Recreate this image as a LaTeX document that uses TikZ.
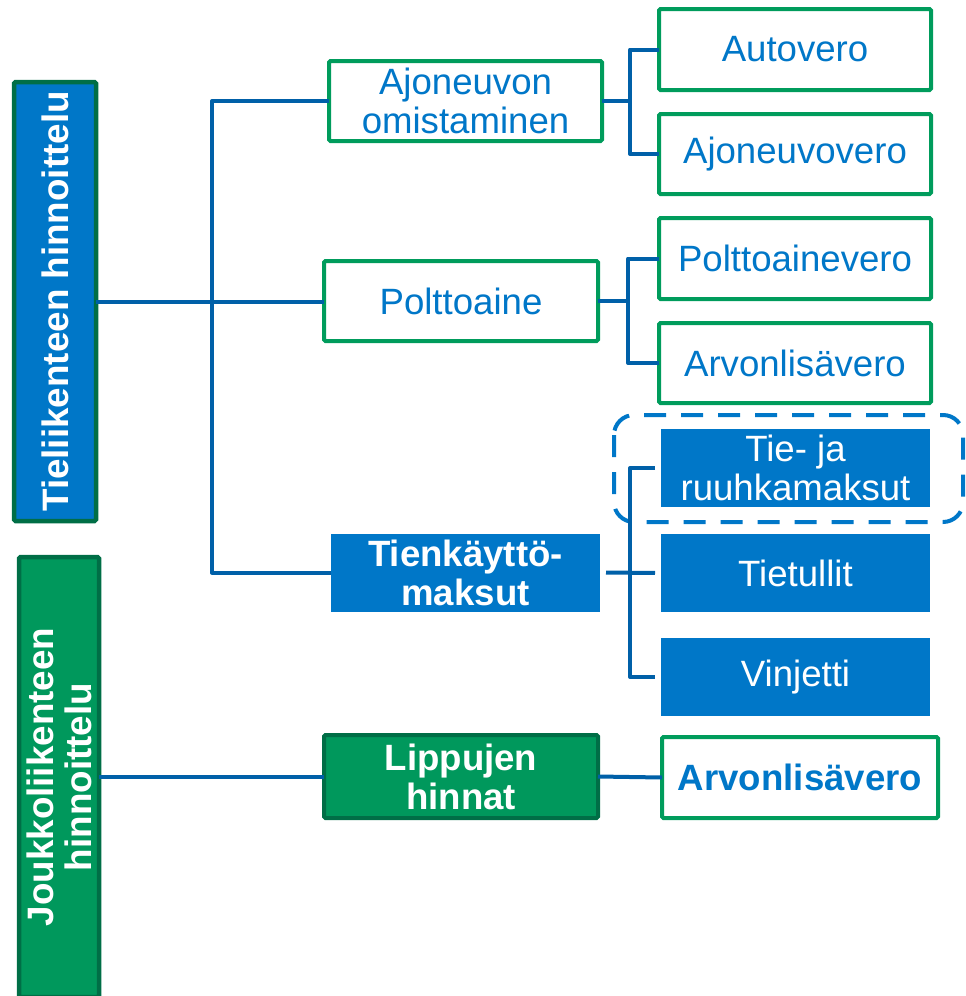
\documentclass[tikz,border=0pt]{standalone}
\usepackage{fontspec}
\setmainfont{Liberation Sans}
\definecolor{fillblue}{RGB}{0,119,200}
\definecolor{lineblue}{RGB}{0,96,168}
\definecolor{boxgreen}{RGB}{0,156,92}
\definecolor{darkgreen}{RGB}{0,110,70}
\definecolor{fillgreen}{RGB}{0,152,92}
\begin{document}
\begin{tikzpicture}[x=1pt,y=-1pt,
  txt/.style={font=\fontsize{36.6}{39}\selectfont, align=center, inner sep=0pt, outer sep=0pt},
  whitebox/.style={txt, draw=boxgreen, line width=4pt, rounded corners=1.5pt, fill=white, text=fillblue, minimum width=272pt, minimum height=80pt},
  bluebox/.style={txt, fill=fillblue, text=white, minimum width=269pt, minimum height=78pt},
  mainbox/.style={txt, draw=darkgreen, line width=4.5pt, rounded corners=1.5pt, text=white, rotate=90, font=\fontsize{36.8}{38}\selectfont\bfseries},
  link/.style={draw=lineblue, line width=4pt, line join=round},
  dashbox/.style={draw=fillblue, line width=4pt, dash pattern=on 22pt off 15pt, rounded corners=20pt}
]
\useasboundingbox (0,0) rectangle (966,996);

% top-level categories (rotated, so their south anchor faces right)
\node[mainbox, fill=fillblue, minimum width=439pt, minimum height=82pt] (tl) at (55,301.5) {Tieliikenteen hinnoittelu};
\node[mainbox, fill=fillgreen, minimum width=440pt, minimum height=80pt] (jl) at (59,777) {Joukkoliikenteen\\hinnoittelu};

% road traffic: second level
\node[whitebox, minimum width=273pt] (ajo) at (465.5,101) {Ajoneuvon\\omistaminen};
\node[whitebox, minimum width=274pt] (polt) at (461,301) {Polttoaine};
\node[bluebox, font=\fontsize{36.6}{39}\selectfont\bfseries] (tkm) at (465.5,572.5) {Tienkäyttö-\\maksut};

% road traffic: third level
\node[whitebox, minimum height=81pt] (auto) at (795,49.5) {Autovero};
\node[whitebox] (ajv) at (795,154) {Ajoneuvovero};
\node[whitebox, minimum height=81pt] (pav) at (795,258.5) {Polttoainevero};
\node[whitebox] (alv) at (795,363) {Arvonlisävero};
\node[bluebox] (tie) at (795.5,468) {Tie- ja\\ruuhkamaksut};
\node[bluebox] (tul) at (795.5,573) {Tietullit};
\node[bluebox] (vin) at (795.5,677) {Vinjetti};

% public transport
\node[whitebox, draw=darkgreen, fill=fillgreen, text=white, minimum width=274pt, minimum height=83pt, font=\fontsize{36.6}{39}\selectfont\bfseries] (lip) at (461,776.5) {Lippujen\\hinnat};
\node[whitebox, minimum width=276pt, minimum height=81pt, font=\fontsize{36.6}{39}\selectfont\bfseries] (alv2) at (800,777.5) {Arvonlisävero};

% dashed highlight around congestion charges
\draw[dashbox] (614,415) rectangle (963,522);

% branch points
\coordinate (trunk) at (212,301);
\coordinate (b1) at (630,101);
\coordinate (b2) at (628,301);
\coordinate (b3) at (630,573);

% connectors
\draw[link] (tl.south) -- (tl.south -| polt.west);
\draw[link] (ajo.west) -| (trunk |- tkm.west) -- (tkm.west);
\draw[link] (ajo.east) -- (b1);
\draw[link] (auto.west) -| (b1) |- (ajv.west);
\draw[link] (polt.east) -- (b2);
\draw[link] (pav.west) -| (b2) |- (alv.west);
\draw[link, shorten <=6pt, shorten >=6pt] (tkm.east) -- (tul.west);
\draw[link, shorten <=6pt, shorten >=6pt] (tie.west) -| (b3) |- (vin.west);
\draw[link] (jl.south) -- (jl.south -| lip.west);
\draw[link] (lip.east) -- (alv2.west);
\end{tikzpicture}
\end{document}
